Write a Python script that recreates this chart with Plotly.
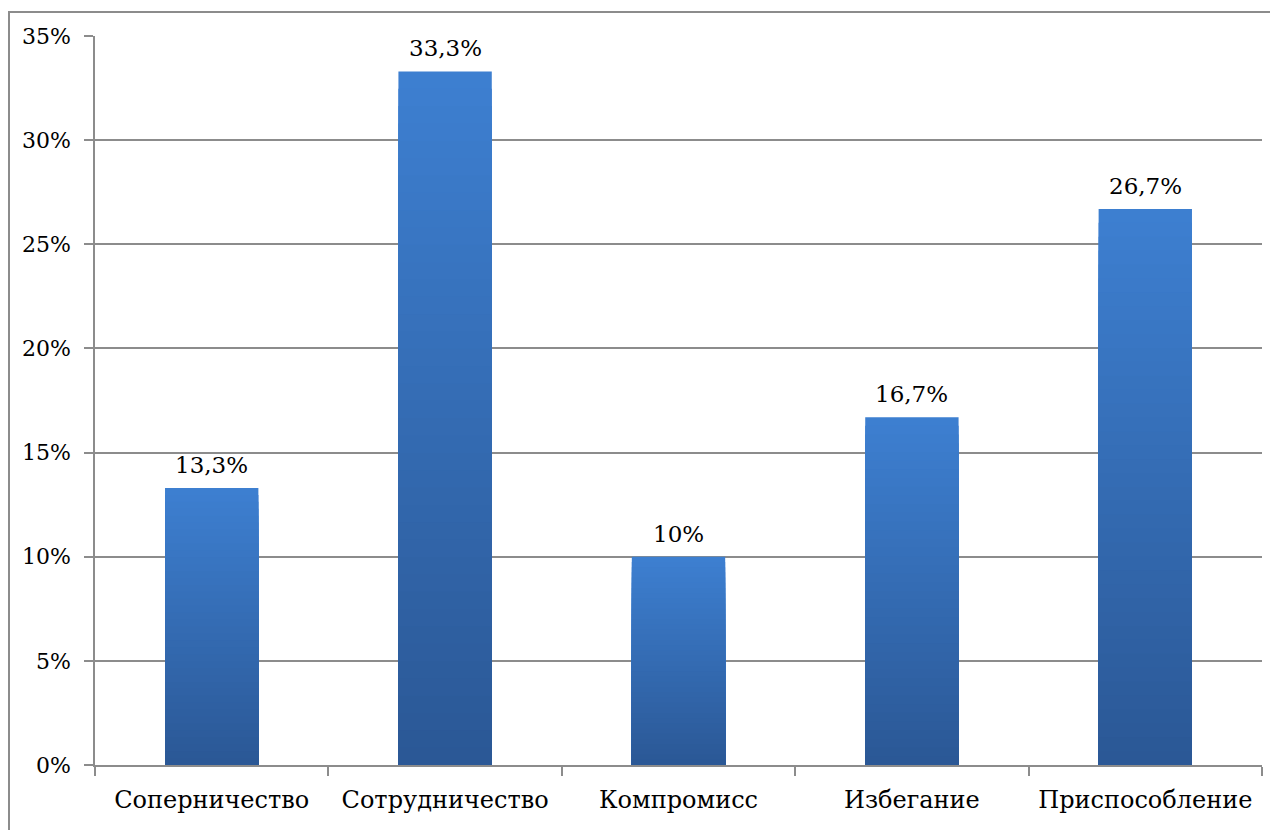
import plotly.graph_objects as go

categories = ["Соперничество", "Сотрудничество", "Компромисс", "Избегание", "Приспособление"]
values = [13.3, 33.3, 10.0, 16.7, 26.7]
labels = ["13,3%", "33,3%", "10%", "16,7%", "26,7%"]
y_ticks = [0, 5, 10, 15, 20, 25, 30, 35]
y_tick_text = ["0%", "5%", "10%", "15%", "20%", "25%", "30%", "35%"]

FONT = "DejaVu Serif"

top_rgb = (61, 127, 208)
bottom_rgb = (43, 88, 150)
N = 40

fig = go.Figure()
for k in range(N):
    f = 1 - k / N
    t = k / (N - 1)
    c = tuple(round(top_rgb[i] + (bottom_rgb[i] - top_rgb[i]) * t) for i in range(3))
    fig.add_trace(go.Bar(
        x=categories,
        y=[v * f for v in values],
        width=0.4,
        marker=dict(color="rgb(%d,%d,%d)" % c, line=dict(width=0)),
        hoverinfo="skip",
        showlegend=False,
    ))

for cat, val, lab in zip(categories, values, labels):
    fig.add_annotation(
        x=cat, y=val, text=lab, showarrow=False,
        xanchor="center", yanchor="bottom", yshift=8,
        font=dict(family=FONT, size=23, color="black"),
    )

PW = 1167
PH = 729
fig.update_layout(
    barmode="overlay",
    width=1270, height=822,
    margin=dict(l=87, r=16, t=28, b=65),
    paper_bgcolor="white",
    plot_bgcolor="white",
    font=dict(family=FONT, size=23, color="black"),
    shapes=[
        dict(type="line", xref="paper", yref="paper",
             x0=-87 / PW, x1=1.02, y0=(757 - 4) / PH, y1=(757 - 4) / PH,
             line=dict(color="#8c8c8c", width=2)),
        dict(type="line", xref="paper", yref="paper",
             x0=-86 / PW, x1=-86 / PW, y0=(757 - 4) / PH, y1=-0.1,
             line=dict(color="#8c8c8c", width=2)),
    ],
)
fig.update_yaxes(
    range=[0, 35],
    tickvals=y_ticks, ticktext=y_tick_text,
    showgrid=True, gridcolor="#8c8c8c", gridwidth=1.5,
    showline=True, linecolor="#8c8c8c", linewidth=1.5,
    ticks="outside", ticklen=9, tickcolor="#8c8c8c", tickwidth=1.5,
    ticklabelstandoff=9,
    zeroline=False,
    tickfont=dict(family=FONT, size=22),
)
fig.update_xaxes(
    showline=True, linecolor="#8c8c8c", linewidth=1.5,
    ticks="outside", ticklen=9, tickcolor="#8c8c8c", tickwidth=1.5,
    tickson="boundaries",
    ticklabelstandoff=12,
    showgrid=False,
    tickfont=dict(family=FONT, size=24),
)
fig.write_html("out.html")
